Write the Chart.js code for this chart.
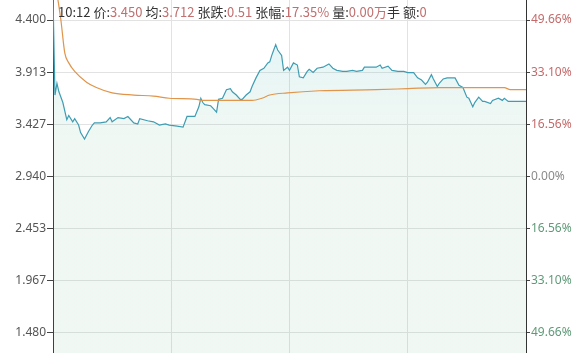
<!DOCTYPE html>
<html>
<head>
<meta charset="utf-8">
<script src="https://cdn.jsdelivr.net/npm/chart.js@4/dist/chart.umd.min.js"></script>
<style>
    body { margin: 0; background: #fff; }
    #wrap { width: 577px; height: 353px; }
</style>
</head>
<body>
<div id="wrap"><canvas id="intraday-chart" width="577" height="353"></canvas></div>
<script>
// Minutes since the open (0 = 09:30, 240 = 15:00) and prices
const priceMinutes = [0, 1, 2, 3, 5, 7, 8, 10, 11, 13, 14, 16, 18, 20, 21, 24, 27, 29, 30, 33, 36, 38, 41, 43, 44, 48, 51, 54, 57, 59, 63, 66, 68, 72, 74, 75, 76, 77, 80, 81, 83, 84, 86, 88, 90, 91, 93, 95, 96, 98, 100, 101, 103, 105, 107, 109, 110, 111, 112, 113, 114, 116, 117, 119, 120, 122, 124, 125, 127, 129, 130, 132, 134, 137, 140, 142, 144, 147, 149, 152, 154, 157, 158, 161, 164, 166, 167, 170, 172, 175, 178, 180, 183, 185, 187, 189, 190, 192, 193, 195, 196, 198, 200, 204, 206, 208, 210, 211, 213, 214, 216, 218, 219, 222, 223, 226, 228, 229, 231, 233, 240];
const priceValues = [4.62, 3.70, 3.81, 3.73, 3.63, 3.47, 3.51, 3.45, 3.48, 3.42, 3.35, 3.29, 3.36, 3.42, 3.44, 3.44, 3.45, 3.49, 3.45, 3.49, 3.48, 3.50, 3.44, 3.43, 3.48, 3.46, 3.45, 3.42, 3.43, 3.42, 3.41, 3.40, 3.50, 3.50, 3.59, 3.67, 3.63, 3.61, 3.60, 3.58, 3.54, 3.66, 3.67, 3.75, 3.76, 3.73, 3.70, 3.66, 3.66, 3.70, 3.73, 3.78, 3.86, 3.93, 3.95, 4.00, 4.01, 4.07, 4.12, 4.17, 4.12, 4.07, 3.93, 3.96, 3.93, 4.00, 3.98, 3.87, 3.86, 3.92, 3.94, 3.91, 3.95, 3.96, 3.99, 3.95, 3.93, 3.92, 3.92, 3.93, 3.92, 3.93, 3.96, 3.96, 3.96, 3.98, 3.95, 3.97, 3.93, 3.92, 3.92, 3.91, 3.91, 3.86, 3.84, 3.80, 3.82, 3.89, 3.85, 3.78, 3.81, 3.85, 3.86, 3.86, 3.79, 3.77, 3.68, 3.67, 3.59, 3.63, 3.68, 3.64, 3.64, 3.62, 3.65, 3.67, 3.65, 3.67, 3.64, 3.64, 3.64];

const avgMinutes = [2, 4, 6, 8, 11, 17, 22, 30, 41, 51, 59, 73, 76, 101, 106, 110, 119, 135, 164, 180, 196, 229, 232, 240];
const avgValues = [4.65, 4.40, 4.09, 4.00, 3.92, 3.82, 3.77, 3.72, 3.70, 3.69, 3.67, 3.66, 3.65, 3.65, 3.67, 3.70, 3.72, 3.74, 3.75, 3.76, 3.77, 3.77, 3.75, 3.75];

// Axis ticks
const priceTicks = [4.400, 3.913, 3.427, 2.940, 2.453, 1.967, 1.480];
const percentLabels = ['49.66%', '33.10%', '16.56%', '0.00%', '16.56%', '33.10%', '49.66%'];
const hourGrid = [60, 120, 180];

// Info bar at the top (label, value pairs)
const infoLabels = ['10:12 价:', ' 均:', ' 张跌:', ' 张幅:', ' 量:', '手 额:'];
const infoValues = ['3.450', '3.712', '0.51', '17.35%', '0.00万', '0'];

const PRICE_MIN = 1.2934;
const PRICE_MAX = 4.5866;
const BASE_PRICE = 2.940;

/**
 * Draw the crosshair info text over the chart
 */
const infoBarPlugin = {
    id: 'infoBar',
    afterDraw(chart) {
        const ctx = chart.ctx;
        ctx.save();
        ctx.font = '13px "Noto Sans CJK SC", "Noto Sans", sans-serif';
        ctx.textBaseline = 'middle';
        let x = 58;
        for (let i = 0; i < infoLabels.length; i++) {
            ctx.fillStyle = '#333333';
            ctx.fillText(infoLabels[i], x, 12);
            x += ctx.measureText(infoLabels[i]).width;
            ctx.fillStyle = '#c0706f';
            ctx.fillText(infoValues[i], x, 12);
            x += ctx.measureText(infoValues[i]).width;
        }
        ctx.restore();
    }
};

/**
 * Colour of a percentage label: red above base price, green below
 */
function percentColor(value) {
    if (Math.abs(value - BASE_PRICE) < 0.001) return '#8a8a8a';
    return value > BASE_PRICE ? '#c46a6a' : '#5f9a78';
}

/**
 * Build the area fill under the price line
 */
function priceFill(context) {
    const area = context.chart.chartArea;
    if (!area) return 'rgba(120, 190, 150, 0.1)';
    const g = context.chart.ctx.createLinearGradient(0, area.top + 40, 0, area.top + 140);
    g.addColorStop(0, 'rgba(80, 190, 200, 0.15)');
    g.addColorStop(1, 'rgba(120, 190, 150, 0.11)');
    return g;
}

function toPoints(xs, ys) {
    return xs.map((m, i) => ({ x: m, y: ys[i] }));
}

/**
 * Create the intraday price chart
 */
function createIntradayChart() {
    const ctx = document.getElementById('intraday-chart').getContext('2d');

    new Chart(ctx, {
        type: 'line',
        data: {
            datasets: [{
                label: '均价',
                data: toPoints(avgMinutes, avgValues),
                borderColor: '#e0954a',
                borderWidth: 1.2,
                pointRadius: 0,
                fill: false,
                cubicInterpolationMode: 'monotone',
                yAxisID: 'y'
            }, {
                label: '价格',
                data: toPoints(priceMinutes, priceValues),
                borderColor: '#3f9db3',
                borderWidth: 1.2,
                pointRadius: 0,
                fill: 'start',
                backgroundColor: priceFill,
                tension: 0,
                yAxisID: 'y'
            }]
        },
        options: {
            responsive: false,
            animation: false,
            events: [],
            layout: { padding: 0 },
            plugins: {
                legend: { display: false },
                tooltip: { enabled: false }
            },
            scales: {
                x: {
                    type: 'linear',
                    min: 0,
                    max: 240,
                    afterBuildTicks: (scale) => {
                        scale.ticks = hourGrid.map(v => ({ value: v }));
                    },
                    afterFit: (scale) => { scale.height = 0; },
                    ticks: { display: false },
                    grid: { color: '#e2e2e2', drawTicks: false },
                    border: { display: false }
                },
                y: {
                    position: 'left',
                    min: PRICE_MIN,
                    max: PRICE_MAX,
                    afterBuildTicks: (scale) => {
                        scale.ticks = priceTicks.map(v => ({ value: v }));
                    },
                    afterFit: (scale) => {
                        scale.width = 53;
                        scale.paddingTop = 0;
                        scale.paddingBottom = 0;
                    },
                    ticks: {
                        color: '#555555',
                        padding: 1,
                        font: { family: '"Noto Sans", sans-serif', size: 12 },
                        callback: (v) => v.toFixed(3)
                    },
                    grid: { color: '#e2e2e2', tickColor: '#444444', tickLength: 6 },
                    border: { color: '#333333', width: 1 }
                },
                y1: {
                    position: 'right',
                    min: PRICE_MIN,
                    max: PRICE_MAX,
                    afterBuildTicks: (scale) => {
                        scale.ticks = priceTicks.map(v => ({ value: v }));
                    },
                    afterFit: (scale) => {
                        scale.width = 51;
                        scale.paddingTop = 0;
                        scale.paddingBottom = 0;
                    },
                    ticks: {
                        padding: 1,
                        font: { family: '"Noto Sans", sans-serif', size: 12 },
                        color: (c) => percentColor(c.tick.value),
                        callback: (v, i) => percentLabels[i]
                    },
                    grid: { drawOnChartArea: false, tickColor: '#444444', tickLength: 4 },
                    border: { color: '#333333', width: 1 }
                }
            }
        },
        plugins: [infoBarPlugin]
    });
}

createIntradayChart();
</script>
</body>
</html>
